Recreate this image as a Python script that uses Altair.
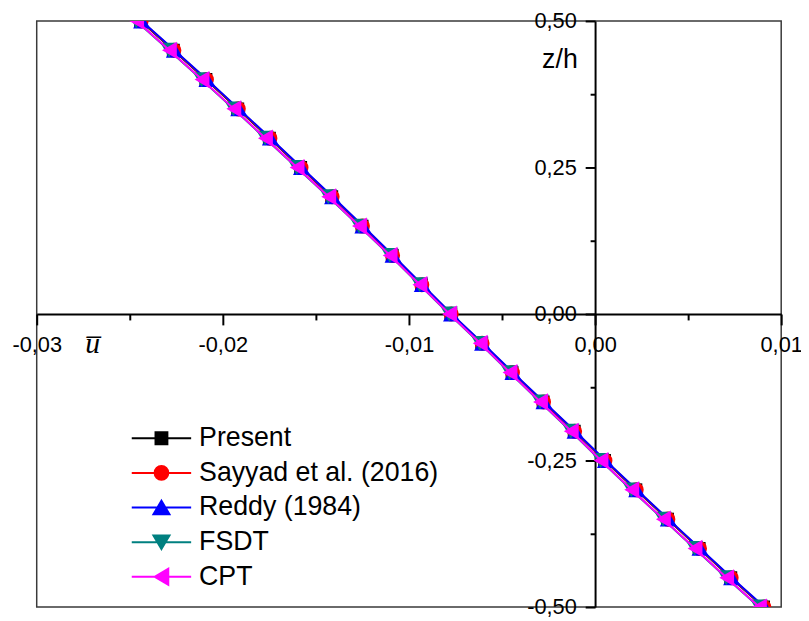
import altair as alt
import pandas as pd

# thickness coordinate z/h
z_h = [0.50, 0.45, 0.40, 0.35, 0.30, 0.25, 0.20, 0.15, 0.10, 0.05, 0.00,
       -0.05, -0.10, -0.15, -0.20, -0.25, -0.30, -0.35, -0.40, -0.45, -0.50]

# in-plane displacement u-bar for each theory
u_present = [-0.02442, -0.02266, -0.02091, -0.01920, -0.01750, -0.01582, -0.01415,
             -0.01252, -0.01090, -0.00933, -0.00775, -0.00609, -0.00446, -0.00279,
             -0.00112, 0.00051, 0.00219, 0.00389, 0.00559, 0.00729, 0.00905]
u_sayyad = [-0.02439, -0.02263, -0.02088, -0.01917, -0.01747, -0.01580, -0.01413,
            -0.01250, -0.01088, -0.00931, -0.00773, -0.00607, -0.00444, -0.00277,
            -0.00110, 0.00053, 0.00221, 0.00391, 0.00561, 0.00731, 0.00907]
u_reddy = [-0.02436, -0.02260, -0.02085, -0.01914, -0.01744, -0.01577, -0.01410,
           -0.01247, -0.01085, -0.00928, -0.00771, -0.00604, -0.00441, -0.00274,
           -0.00107, 0.00056, 0.00224, 0.00394, 0.00564, 0.00734, 0.00910]
u_fsdt = [-0.02465, -0.02289, -0.02114, -0.01943, -0.01773, -0.01603, -0.01433,
          -0.01268, -0.01103, -0.00943, -0.00784, -0.00619, -0.00459, -0.00295,
          -0.00130, 0.00030, 0.00195, 0.00365, 0.00535, 0.00705, 0.00881]
u_cpt = [-0.02463, -0.02287, -0.02112, -0.01941, -0.01771, -0.01601, -0.01431,
         -0.01266, -0.01101, -0.00941, -0.00782, -0.00617, -0.00457, -0.00293,
         -0.00128, 0.00032, 0.00197, 0.00367, 0.00537, 0.00707, 0.00883]

series_names = ["Present", "Sayyad et al. (2016)", "Reddy (1984)", "FSDT", "CPT"]
series_values = [u_present, u_sayyad, u_reddy, u_fsdt, u_cpt]
series_colors = ["#000000", "#FF0000", "#0000FF", "#008080", "#FF00FF"]
series_shapes = ["square", "circle", "triangle-up", "triangle-down", "triangle-left"]
series_sizes = [170, 230, 300, 300, 300]

# legend symbols: line segment + marker
legend_paths = [
    "M-1,0H1M-0.2,-0.2H0.2V0.2H-0.2Z",
    "M-1,0H1M-0.23,0A0.23,0.23,0,1,0,0.23,0A0.23,0.23,0,1,0,-0.23,0Z",
    "M-1,0H1M0,-0.23L0.27,0.23L-0.27,0.23Z",
    "M-1,0H1M0,0.23L0.27,-0.23L-0.27,-0.23Z",
    "M-1,0H1M-0.23,0L0.23,-0.27L0.23,0.27Z",
]

x_ticks = [-0.03, -0.025, -0.02, -0.015, -0.01, -0.005, 0.0, 0.005, 0.01]
y_ticks = [-0.5, -0.375, -0.25, -0.125, 0.0, 0.125, 0.25, 0.375, 0.5]

rows = []
for name, vals in zip(series_names, series_values):
    for u, z in zip(vals, z_h):
        rows.append({"series": name, "u": u, "z": z})
df = pd.DataFrame(rows)

W, H = 752, 592
xscale = alt.Scale(domain=[-0.03, 0.01], nice=False, zero=False)
yscale = alt.Scale(domain=[-0.5, 0.5], nice=False, zero=False)

label_expr_x = ("abs(datum.value*100 - round(datum.value*100)) > 0.1 ? '' : "
                "(datum.value < -0.0001 ? '-' : '') + replace(format(abs(datum.value), '.2f'), '.', ',')")
label_expr_y = ("abs(datum.value*4 - round(datum.value*4)) > 0.1 ? '' : "
                "(datum.value < -0.0001 ? '-' : '') + replace(format(abs(datum.value), '.2f'), '.', ',')")

x_axis = alt.Axis(
    values=x_ticks, orient="bottom", offset=-H / 2,
    tickSize={"condition": {"test": "abs(datum.value*100 - round(datum.value*100)) > 0.1", "value": 6}, "value": 11},
    labelExpr=label_expr_x, labelFlush=False, labelPadding=20, labelBaseline="middle",
    title="u\u0305", titleFont="Liberation Serif", titleFontStyle="italic", titleFontWeight="normal",
    titleFontSize=30, titleX=56, titleY=30, titleAlign="center", titleBaseline="middle",
)
y_axis = alt.Axis(
    values=y_ticks, orient="left", offset=-0.75 * W,
    tickSize={"condition": {"test": "abs(datum.value*4 - round(datum.value*4)) > 0.1", "value": 5}, "value": 10},
    labelExpr=label_expr_y, labelFlush=False, labelPadding=9,
    title="z/h", titleAngle=0, titleFont="Liberation Sans", titleFontWeight="normal",
    titleFontSize=27, titleX=-36, titleY=39, titleAlign="center", titleBaseline="middle",
)

layers = []
first = True
for name, color, shape, size in zip(series_names, series_colors, series_shapes, series_sizes):
    sub = alt.Chart(df).transform_filter(alt.datum.series == name)
    if first:
        xe = alt.X("u:Q", scale=xscale, axis=x_axis)
        ye = alt.Y("z:Q", scale=yscale, axis=y_axis)
        first = False
    else:
        xe = alt.X("u:Q", scale=xscale)
        ye = alt.Y("z:Q", scale=yscale)
    line = sub.mark_line(color=color, strokeWidth=2, clip=True).encode(
        x=xe, y=ye, order=alt.Order("z:Q", sort="descending"))
    pts = sub.mark_point(shape=shape, color=color, filled=True, size=size, opacity=1,
                         clip=True).encode(x=alt.X("u:Q", scale=xscale), y=alt.Y("z:Q", scale=yscale))
    layers += [line, pts]

leg = alt.Legend(
    title=None, orient="none", legendX=95, legendY=404, padding=0,
    labelFont="Liberation Sans", labelFontSize=27, labelColor="black", labelOffset=7,
    labelLimit=500, clipHeight=35, rowPadding=0, symbolStrokeWidth=2, symbolSize=3600,
    symbolOpacity=1,
)
legend_layer = alt.Chart(df).transform_filter("false").mark_point(
    size=3600, strokeWidth=2, opacity=1, filled=True).encode(
    x=alt.X("u:Q", scale=xscale),
    y=alt.Y("z:Q", scale=yscale),
    fill=alt.Fill("series:N", scale=alt.Scale(domain=series_names, range=series_colors), legend=leg),
    stroke=alt.Stroke("series:N", scale=alt.Scale(domain=series_names, range=series_colors), legend=leg),
    shape=alt.Shape("series:N", scale=alt.Scale(domain=series_names, range=legend_paths), legend=leg),
)
layers.append(legend_layer)

chart = alt.layer(*layers).properties(
    width=W, height=H,
    padding={"left": 29, "top": 10, "right": 20, "bottom": 10},
    autosize=alt.AutoSizeParams(type="none"),
).configure_view(
    stroke="#3a3a3a", strokeWidth=1.5
).configure_axis(
    labelFont="Liberation Sans", labelFontSize=22, labelColor="black",
    domainColor="black", domainWidth=2, tickColor="black", tickWidth=2,
    grid=False, titleColor="black",
)

chart.save("out.html", embed_options={"renderer": "svg", "actions": False})
